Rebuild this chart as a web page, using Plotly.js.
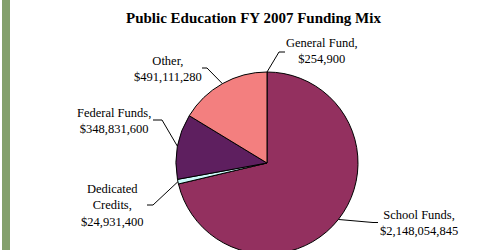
<!DOCTYPE html>
<html>
<head>
<meta charset="utf-8">
<script src="https://cdn.plot.ly/plotly-3.0.1.min.js"></script>
<style>
  html, body { margin: 0; padding: 0; background: #fff; overflow: hidden; width: 493px; height: 250px; }
  #chart { width: 493px; height: 260px; }
</style>
</head>
<body>
<div id="chart"></div>
<script>
// ---- data ----
const categories = ['General Fund', 'School Funds', 'Dedicated Credits', 'Federal Funds', 'Other'];
const labelLines = [['General Fund,'], ['School Funds,'], ['Dedicated', 'Credits,'], ['Federal Funds,'], ['Other,']];
const values = [254900, 2148054845, 24931400, 348831600, 491111280];
const colors = ['#9999FF', '#93305F', '#CCFAFA', '#5E1F5F', '#F37F7F'];
const chartTitle = 'Public Education FY 2007 Funding Mix';

// ---- layout geometry (pixels) ----
const W = 493, H = 260;
const CX = 267, CY = 163, R = 91;
// label centres and leader-line elbow/end points
const labelPos = [
  {x: 322, y: 51.5, elbow: [279, 52], end: [285, 52]},
  {x: 419, y: 223, elbow: [373, 222.5], end: [378, 222.5]},
  {x: 112, y: 205.5, elbow: [153, 205], end: [147, 205]},
  {x: 114, y: 120.5, elbow: [162, 120], end: [153, 120]},
  {x: 168, y: 69.5, elbow: [207, 68], end: [202, 68]}
];

const px = x => x / W;
const py = y => 1 - y / H;
const fmt = v => '$' + v.toLocaleString('en-US');
const total = values.reduce((a, b) => a + b, 0);
const font = 'Liberation Serif, Times New Roman, serif';

const annotations = [{
  text: '<b>' + chartTitle + '</b>', xref: 'paper', yref: 'paper',
  x: px(253.5), y: py(18), showarrow: false, xanchor: 'center', yanchor: 'middle',
  font: {family: font, size: 15, color: '#000'}
}];
const shapes = [{
  type: 'rect', xref: 'paper', yref: 'paper', x0: px(2), x1: px(10), y0: 0, y1: 1,
  fillcolor: '#84A06C', line: {width: 0}
}];

let cum = 0;
values.forEach((v, i) => {
  const theta = 2 * Math.PI * (cum + v / 2) / total;
  cum += v;
  const ex = CX + R * Math.sin(theta), ey = CY - R * Math.cos(theta);
  const L = labelPos[i];
  shapes.push({
    type: 'path', xref: 'paper', yref: 'paper',
    path: `M ${px(ex)},${py(ey)} L ${px(L.elbow[0])},${py(L.elbow[1])} L ${px(L.end[0])},${py(L.end[1])}`,
    line: {color: '#000', width: 1}
  });
  annotations.push({
    text: labelLines[i].concat([fmt(v)]).join('<br>'),
    xref: 'paper', yref: 'paper', x: px(L.x), y: py(L.y),
    xanchor: 'center', yanchor: 'middle', align: 'center', showarrow: false,
    font: {family: font, size: 12.5, color: '#000'}
  });
});

const trace = {
  type: 'pie',
  labels: categories,
  values: values,
  sort: false,
  direction: 'clockwise',
  rotation: 0,
  textinfo: 'none',
  hoverinfo: 'label+value',
  marker: {colors: colors, line: {color: '#000', width: 1}},
  domain: {x: [(CX - R) / W, (CX + R) / W], y: [(H - CY - R) / H, (H - CY + R) / H]}
};

Plotly.newPlot('chart', [trace], {
  width: W, height: H,
  margin: {l: 0, r: 0, t: 0, b: 0},
  paper_bgcolor: '#fff', plot_bgcolor: '#fff',
  showlegend: false,
  annotations: annotations,
  shapes: shapes
}, {displayModeBar: false, staticPlot: true});
</script>
</body>
</html>
